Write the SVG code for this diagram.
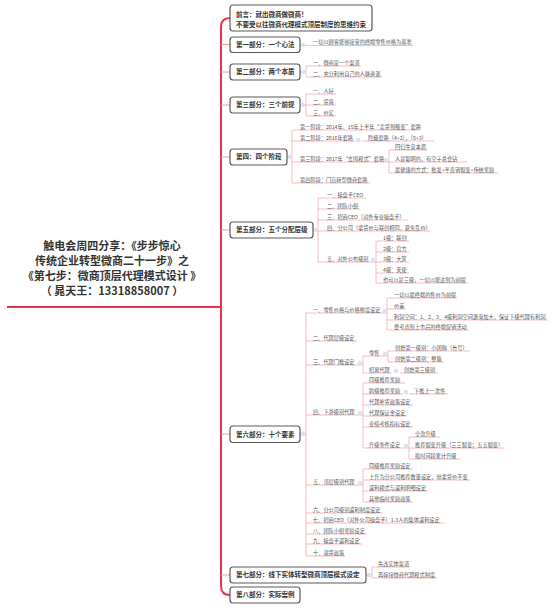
<svg xmlns="http://www.w3.org/2000/svg" width="553" height="611" viewBox="0 0 553 611">
<style>
.spine{stroke:#e8334a;stroke-width:2;fill:none}
.br{stroke:#f39aab;stroke-width:1;fill:none}
.ln{stroke:#f5a9b7;stroke-width:0.8;fill:none}
.dot{fill:#dde2ee}
.box{fill:#fff;stroke:#5a5a5a;stroke-width:1.2}
text{font-family:"Noto Sans CJK SC","Noto Sans",sans-serif}
.t{font-size:5.2px;fill:#555}
.m{font-size:6.5px;font-weight:bold;fill:#333}
.c{font-size:11px;font-weight:bold;fill:#333;text-anchor:middle}
</style>
<rect width="553" height="611" fill="#fff"/>
<g id="connectors">
<path class="spine" d="M7 307H221M230 18Q221 18 221 27V586Q221 595 230 595"/>
<path class="br" d="M221 44.5H230M221 72H230M221 105H230M221 157H230M221 230H230M221 434H230M221 575H230"/>
<!-- part1 -->
<path class="ln" d="M300 45.5H413"/>
<!-- part2 -->
<path class="ln" d="M300 72H306M306 66V77M306 66H361M306 77H382"/>
<!-- part3 -->
<path class="ln" d="M300 105H306M306 94V116M306 94H336M306 105H336M306 116H336"/>
<!-- part4 -->
<path class="ln" d="M287 157H292M292 130V183M292 130H417M292 141H355M361 141H434M292 162H383M292 183H370"/>
<path class="ln" d="M383 162H389M389 150V173M389 150H428M389 162H467M389 173H498"/>
<!-- part5 -->
<path class="ln" d="M313 230H318M318 198V262M318 198H366M318 209H360M318 220H408M318 231H430M318 262H370"/>
<path class="ln" d="M370 262H376M376 241V283M376 241H409M376 252H409M376 262H409M376 273H409M376 283H468"/>
<!-- part6 -->
<path class="ln" d="M300 434H306M306 313V556M306 313H382M306 341H357M306 365H357M306 415H357M306 485H357M306 513H383M306 523H445M306 534H367M306 544H362M306 556H345"/>
<path class="ln" d="M382 313H387M387 298V330M387 298H457M387 309H406M387 320H548M387 330H469"/>
<path class="ln" d="M357 365H363M363 356V373M363 356H381M363 373H392M400 373H438"/>
<path class="ln" d="M381 356H388M388 351V362M388 351H470M388 362H444"/>
<path class="ln" d="M357 415H363M363 383V448M363 383H405M363 394H403M409 394H448M363 405H413M363 416H407M363 427H413M363 448H403"/>
<path class="ln" d="M403 448H409M409 437V459M409 437H440M409 448H505M409 459H460"/>
<path class="ln" d="M357 485H363M363 469V502M363 469H413M363 480H470M363 491H428M363 502H413"/>
<!-- part7 -->
<path class="ln" d="M366 575H372M372 567V578M372 567H410M372 578H437"/>
<g class="dot">
<circle cx="303" cy="45" r="2.3"/><circle cx="303" cy="72" r="2.3"/><circle cx="303" cy="105" r="2.3"/>
<circle cx="290" cy="157" r="2.3"/><circle cx="358" cy="140" r="2.3"/><circle cx="386" cy="160" r="2.3"/>
<circle cx="316" cy="230" r="2.3"/><circle cx="373" cy="260" r="2.3"/>
<circle cx="303" cy="434" r="2.3"/><circle cx="385" cy="311" r="2.3"/><circle cx="360" cy="363" r="2.3"/>
<circle cx="385" cy="354" r="2.3"/><circle cx="396" cy="371" r="2.3"/><circle cx="360" cy="413" r="2.3"/>
<circle cx="406" cy="392" r="2.3"/><circle cx="406" cy="446" r="2.3"/><circle cx="360" cy="483" r="2.3"/>
<circle cx="369" cy="575" r="2.3"/>
</g>
</g>
<g id="central">
<text class="c" x="112" y="250">触电会周四分享：《步步惊心</text>
<text class="c" x="112" y="265">传统企业转型微商二十一步》之</text>
<text class="c" x="112" y="280">《第七步：微商顶层代理模式设计 》</text>
<text class="c" x="112" y="295">（ 晁天王：13318858007 ）</text>
</g>
<g id="intro"><rect class="box" x="230" y="5" width="142" height="26" rx="3"/>
<text class="m" x="236" y="17.3">前言：就出微商做微商！</text>
<text class="m" x="236" y="27.3">不要受以往微商代理模式顶层制度的思维约束</text></g>
<g id="part1"><rect class="box" x="230" y="37" width="70" height="15.5" rx="3"/><text class="m" x="236" y="47">第一部分：一个心法</text></g>
<g id="part2"><rect class="box" x="230" y="64" width="70" height="16" rx="3"/><text class="m" x="236" y="74.3">第二部分：两个本质</text></g>
<g id="part3"><rect class="box" x="230" y="97" width="70" height="16" rx="3"/><text class="m" x="236" y="107.3">第三部分：三个前提</text></g>
<g id="part4"><rect class="box" x="230" y="149" width="57" height="16" rx="3"/><text class="m" x="236" y="159.3">第四：四个阶段</text></g>
<g id="part5"><rect class="box" x="230" y="222" width="83" height="16" rx="3"/><text class="m" x="236" y="232.3">第五部分：五个分配层级</text></g>
<g id="part6"><rect class="box" x="230" y="426" width="70" height="16.5" rx="3"/><text class="m" x="236" y="436.5">第六部分：十个要素</text></g>
<g id="part7"><rect class="box" x="230" y="567" width="136" height="16" rx="3"/><text class="m" x="236" y="577.3">第七部分：线下实体转型微商顶层模式设定</text></g>
<g id="part8"><rect class="box" x="230" y="587" width="70" height="16" rx="3"/><text class="m" x="236" y="597.3">第八部分：实际案例</text></g>
<g id="topics" class="t">
<g id="p1-1"><text class="t" x="313" y="44">一切以顾客能够接受的终端零售价格为基准</text></g>
<g id="p2-1"><text class="t" x="313" y="64.5">一、微商是一个渠道</text></g>
<g id="p2-2"><text class="t" x="313" y="75.5">二、充分利用自己的人脉资源</text></g>
<g id="p3-1"><text class="t" x="313" y="92.5">一、人好</text></g>
<g id="p3-2"><text class="t" x="313" y="103.5">二、货真</text></g>
<g id="p3-3"><text class="t" x="313" y="114.5">三、价实</text></g>
<g id="p4-1"><text class="t" x="300" y="128.5">第一阶段：2014年、15年上半年“卖货到叛变”套路</text></g>
<g id="p4-2"><text class="t" x="300" y="139.5">第二阶段：2016年套路</text></g>
<g id="p4-2-1"><text class="t" x="368" y="139.5">隐藏套路（4+2），（5+3）</text></g>
<g id="p4-3"><text class="t" x="300" y="160.5">第三阶段：2017年“去囤模式”套路</text></g>
<g id="p4-3-1"><text class="t" x="395" y="148.5">回归生意本质</text></g>
<g id="p4-3-2"><text class="t" x="395" y="160.5">人是聪明的，有空子总会钻</text></g>
<g id="p4-3-3"><text class="t" x="395" y="171.5">最健康的方式：批发+半直销裂变+传统奖励</text></g>
<g id="p4-4"><text class="t" x="300" y="181.5">第四阶段：门店转型微商套路</text></g>
<g id="p5-1"><text class="t" x="327" y="196.5">一、操盘手CEO</text></g>
<g id="p5-2"><text class="t" x="327" y="207.5">二、团队小组</text></g>
<g id="p5-3"><text class="t" x="327" y="218.5">三、招商CEO（对外专业操盘手）</text></g>
<g id="p5-4"><text class="t" x="327" y="229.5">四、分公司（拿货价与联创相同，避免乱价）</text></g>
<g id="p5-5"><text class="t" x="327" y="260.5">五、对外公布级别</text></g>
<g id="p5-5-1"><text class="t" x="383" y="239.5">1级：联创</text></g>
<g id="p5-5-2"><text class="t" x="383" y="250.5">2级：官方</text></g>
<g id="p5-5-3"><text class="t" x="383" y="260.5">3级：大区</text></g>
<g id="p5-5-4"><text class="t" x="383" y="271.5">4级：天使</text></g>
<g id="p5-5-5"><text class="t" x="383" y="281.5">也可以是三级，一切以能达到为前提</text></g>
<g id="p6-1"><text class="t" x="313" y="311.5">一、零售价格与价格梯度设定</text></g>
<g id="p6-1-1"><text class="t" x="394" y="296.5">一切以最终端的售价为前提</text></g>
<g id="p6-1-2"><text class="t" x="394" y="307.5">价差</text></g>
<g id="p6-1-3"><text class="t" x="394" y="318.5">利润空间：1、2、3、4级利润空间逐渐加大，保证下级代理有利润</text></g>
<g id="p6-1-4"><text class="t" x="394" y="328.5">要考虑到上市后的终端促销活动</text></g>
<g id="p6-2"><text class="t" x="313" y="339.5">二、代理层级设定</text></g>
<g id="p6-3"><text class="t" x="313" y="363.5">三、代理门槛设定</text></g>
<g id="p6-3-1"><text class="t" x="369" y="354.5">零售</text></g>
<g id="p6-3-1-1"><text class="t" x="395" y="349.5">创始第一级别：小团购（台号）</text></g>
<g id="p6-3-1-2"><text class="t" x="395" y="360.5">创始第二级别：整箱</text></g>
<g id="p6-3-2"><text class="t" x="369" y="371.5">招募代理</text></g>
<g id="p6-3-2-1"><text class="t" x="404" y="371.5">创始第三级别</text></g>
<g id="p6-4"><text class="t" x="313" y="413.5">四、下游级别代理</text></g>
<g id="p6-4-1"><text class="t" x="369" y="381.5">同级推荐奖励</text></g>
<g id="p6-4-2"><text class="t" x="369" y="392.5">跨级推荐奖励</text></g>
<g id="p6-4-2-1"><text class="t" x="414" y="392.5">下推上一次性</text></g>
<g id="p6-4-3"><text class="t" x="369" y="403.5">代理补货政策设定</text></g>
<g id="p6-4-4"><text class="t" x="369" y="414.5">代理保证金设定</text></g>
<g id="p6-4-5"><text class="t" x="369" y="425.5">业绩考核指标设定</text></g>
<g id="p6-4-6"><text class="t" x="369" y="446.5">升级条件设定</text></g>
<g id="p6-4-6-1"><text class="t" x="415" y="435.5">全款升级</text></g>
<g id="p6-4-6-2"><text class="t" x="415" y="446.5">推荐裂变升级（三三裂变；五五裂变）</text></g>
<g id="p6-4-6-3"><text class="t" x="415" y="457.5">按时间段累计升级</text></g>
<g id="p6-5"><text class="t" x="313" y="483.5">五、顶层级别代理</text></g>
<g id="p6-5-1"><text class="t" x="369" y="467.5">同级推荐奖励设定</text></g>
<g id="p6-5-2"><text class="t" x="369" y="478.5">上升为分公司推荐数量设定，但拿货价不变</text></g>
<g id="p6-5-3"><text class="t" x="369" y="489.5">返利模式与返利明细设定</text></g>
<g id="p6-5-4"><text class="t" x="369" y="500.5">其他临时奖励政策</text></g>
<g id="p6-6"><text class="t" x="313" y="511.5">六、分公司级别返利制度设定</text></g>
<g id="p6-7"><text class="t" x="313" y="521.5">七、招商CEO（对外公司操盘手）1-3人的集体返利设定</text></g>
<g id="p6-8"><text class="t" x="313" y="532.5">八、团队小组奖励设定</text></g>
<g id="p6-9"><text class="t" x="313" y="542.5">九、操盘手返利设定</text></g>
<g id="p6-10"><text class="t" x="313" y="554.5">十、退货政策</text></g>
<g id="p7-1"><text class="t" x="378" y="565.5">先改实体渠道</text></g>
<g id="p7-2"><text class="t" x="378" y="576.5">再嫁接微商代理模式制度</text></g>
</g>
</svg>
